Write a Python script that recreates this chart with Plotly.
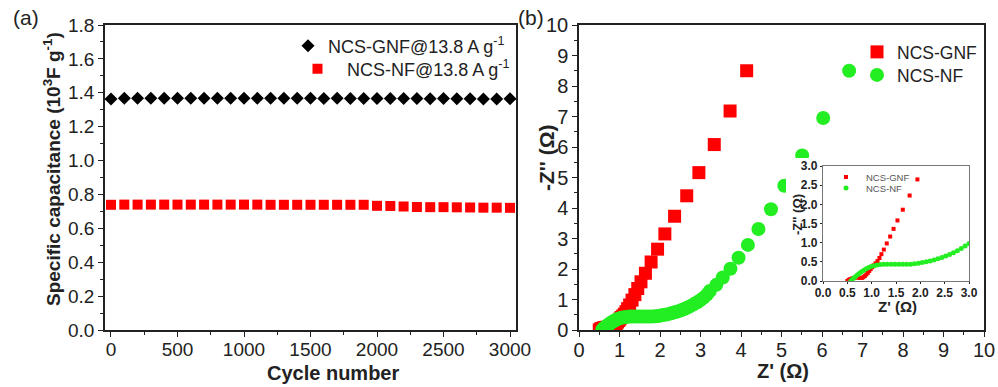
import plotly.graph_objects as go

# ---------------- data ----------------
cycles = list(range(0, 3001, 100))
gnf_cap = [1.363, 1.367, 1.368, 1.368, 1.368, 1.368, 1.367, 1.368, 1.367, 1.368,
           1.368, 1.367, 1.367, 1.367, 1.367, 1.367, 1.366, 1.367, 1.366, 1.366,
           1.366, 1.366, 1.366, 1.366, 1.365, 1.366, 1.365, 1.365, 1.364, 1.364, 1.365]
nf_cap = [0.739, 0.740, 0.740, 0.740, 0.740, 0.740, 0.740, 0.740, 0.740, 0.740,
          0.740, 0.740, 0.739, 0.739, 0.739, 0.739, 0.739, 0.739, 0.739, 0.739,
          0.733, 0.732, 0.729, 0.726, 0.725, 0.725, 0.724, 0.723, 0.722, 0.722, 0.721]

gnf_zr = [0.50, 0.53, 0.56, 0.60, 0.64, 0.68, 0.72, 0.76, 0.80, 0.83, 0.86, 0.89,
          0.92, 0.95, 0.98, 1.01, 1.04, 1.08, 1.12, 1.16, 1.20, 1.25, 1.31, 1.38,
          1.45, 1.53, 1.64, 1.78, 1.94, 2.12, 2.36, 2.66, 2.96, 3.34, 3.73, 4.14]
gnf_zi = [0.00, 0.03, 0.05, 0.07, 0.08, 0.09, 0.09, 0.08, 0.08, 0.10, 0.13, 0.17,
          0.21, 0.26, 0.31, 0.36, 0.41, 0.46, 0.52, 0.60, 0.70, 0.82, 0.98, 1.16,
          1.36, 1.58, 1.86, 2.23, 2.65, 3.15, 3.73, 4.40, 5.16, 6.08, 7.18, 8.50]

nf_zr = [0.57, 0.60, 0.63, 0.67, 0.71, 0.75, 0.79, 0.84, 0.89, 0.94, 0.99, 1.05,
         1.11, 1.18, 1.25, 1.32, 1.40, 1.48, 1.56, 1.64, 1.72, 1.80, 1.88, 1.96,
         2.04, 2.12, 2.20, 2.28, 2.36, 2.44, 2.52, 2.60, 2.68, 2.76, 2.84, 2.92,
         3.00, 3.08, 3.16, 3.23, 3.39, 3.55, 3.74, 3.94, 4.17, 4.43, 4.74, 5.07,
         5.51, 6.03, 6.67]
nf_zi = [0.00, 0.04, 0.08, 0.12, 0.16, 0.20, 0.24, 0.28, 0.32, 0.35, 0.38, 0.40,
         0.42, 0.43, 0.44, 0.44, 0.44, 0.44, 0.44, 0.44, 0.44, 0.44, 0.45, 0.46,
         0.48, 0.50, 0.52, 0.55, 0.58, 0.61, 0.65, 0.69, 0.74, 0.79, 0.85, 0.91,
         0.98, 1.06, 1.16, 1.28, 1.48, 1.72, 2.01, 2.37, 2.79, 3.31, 3.96, 4.73,
         5.72, 6.95, 8.50]

RED = "#ff0000"
GREEN = "#22ee22"
AX = "#222222"
FONT = "Liberation Sans"

fig = go.Figure()

# ---- panel (a)
fig.add_trace(go.Scatter(x=cycles, y=gnf_cap, mode="markers", name="NCS-GNF@13.8 A g<sup>-1</sup>",
                         marker=dict(symbol="diamond", size=10, color="black"),
                         xaxis="x", yaxis="y", legend="legend"))
fig.add_trace(go.Scatter(x=cycles, y=nf_cap, mode="markers", name="NCS-NF@13.8 A g<sup>-1</sup>",
                         marker=dict(symbol="square", size=10, color=RED),
                         xaxis="x", yaxis="y", legend="legend4"))

# ---- panel (b)
fig.add_trace(go.Scatter(x=gnf_zr, y=gnf_zi, mode="markers", name="NCS-GNF",
                         marker=dict(symbol="square", size=13, color=RED),
                         xaxis="x2", yaxis="y2", legend="legend2"))
fig.add_trace(go.Scatter(x=nf_zr, y=nf_zi, mode="markers", name="NCS-NF",
                         marker=dict(symbol="circle", size=14, color=GREEN),
                         xaxis="x2", yaxis="y2", legend="legend5"))

# ---- white cover for inset
fig.add_trace(go.Scatter(x=[], y=[], mode="markers", showlegend=False,
                         xaxis="x3", yaxis="y3"))

# ---- inset
fig.add_trace(go.Scatter(x=gnf_zr, y=gnf_zi, mode="markers", name="NCS-GNF",
                         marker=dict(symbol="square", size=4, color=RED),
                         xaxis="x4", yaxis="y4", legend="legend3", cliponaxis=True))
fig.add_trace(go.Scatter(x=nf_zr, y=nf_zi, mode="markers", name="NCS-NF",
                         marker=dict(symbol="circle", size=5, color=GREEN),
                         xaxis="x4", yaxis="y4", legend="legend6", cliponaxis=True))

W, H = 998, 387
def px(v): return v / W
def py(v): return (H - v) / H

def axis_style(size, bold=False, **kw):
    d = dict(showline=True, linecolor=AX, linewidth=1.5, mirror=True,
             ticks="outside", ticklen=5, tickwidth=1.2, tickcolor=AX,
             showgrid=False, zeroline=False,
             tickfont=dict(family=FONT, size=size, color=AX,
                           weight="bold" if bold else "normal"))
    d.update(kw)
    return d

minor = lambda dt: dict(dtick=dt, ticks="outside", ticklen=3, tickwidth=1.2, tickcolor=AX)

def leg(xc, yc, size, color=AX, iw=30):
    # xc, yc: pixel centre of the legend symbol
    return dict(x=px(xc - 20), y=py(yc), xanchor="left", yanchor="middle",
                bgcolor="rgba(0,0,0,0)", borderwidth=0, itemwidth=iw,
                font=dict(family=FONT, size=size, color=color))

fig.update_layout(
    width=W, height=H, template="none",
    paper_bgcolor="white", plot_bgcolor="white",
    margin=dict(l=0, r=0, t=0, b=0),
    font=dict(family=FONT, color=AX),
    xaxis=axis_style(19, domain=[px(105), px(516)], range=[-45, 3045],
                     tickvals=[0, 500, 1000, 1500, 2000, 2500, 3000], minor=minor(250),
                     ticklabelstandoff=-4, anchor="y"),
    yaxis=axis_style(19, domain=[py(330), py(25)], range=[0, 1.8], dtick=0.2,
                     tickformat=".1f", minor=minor(0.1), anchor="x"),
    xaxis2=axis_style(20, domain=[px(579), px(984)], range=[0, 10], dtick=1,
                      minor=minor(0.5), ticklabelstandoff=-4, anchor="y2"),
    yaxis2=axis_style(20, domain=[py(330), py(25)], range=[0, 10], dtick=1,
                      minor=minor(0.5), anchor="x2"),
    xaxis3=dict(visible=False, domain=[px(786), px(982)], range=[0, 1], anchor="y3"),
    yaxis3=dict(visible=False, domain=[py(318), py(158)], range=[0, 1], anchor="x3"),
    xaxis4=axis_style(12, bold=True, domain=[px(823), px(969)], range=[0, 3], dtick=0.5,
                      tickformat=".1f", ticklen=2, linecolor="#777777", linewidth=1.2,
                      ticklabelstandoff=-2, anchor="y4"),
    yaxis4=axis_style(12, bold=True, domain=[py(281), py(166)], range=[0, 3], dtick=0.5,
                      tickformat=".1f", ticklen=2, linecolor="#777777", linewidth=1.2,
                      anchor="x4"),
    legend=leg(308, 46, 18),
    legend4=leg(308, 69, 18, iw=49),
    legend2=leg(877, 52, 17.5),
    legend5=leg(877, 75, 17.5),
    legend3=leg(846, 177, 9.5, color="#555555"),
    legend6=leg(846, 188, 9.5, color="#555555"),
    showlegend=True,
)

ann = [
    dict(text="(a)", x=px(26), y=py(17), size=21, bold=False),
    dict(text="(b)", x=px(531), y=py(17), size=21, bold=False),
    dict(text="Specific capacitance (10<sup>3</sup>F g<sup>-1</sup>)", x=px(52), y=py(169),
         size=19, bold=True, angle=-90),
    dict(text="Cycle number", x=px(333), y=py(373), size=20, bold=True),
    dict(text="-Z'' (Ω)", x=px(546), y=py(158), size=21, bold=True, angle=-90),
    dict(text="Z' (Ω)", x=px(783), y=py(371), size=20, bold=True),
    dict(text="Z' (Ω)", x=px(897), y=py(306), size=15, bold=True),
    dict(text="-Z'' (Ω)", x=px(797), y=py(215), size=13, bold=True, angle=-90),
]
for a in ann:
    fig.add_annotation(text=a["text"], x=a["x"], y=a["y"], xref="paper", yref="paper",
                       xanchor="center", yanchor="middle", showarrow=False,
                       textangle=a.get("angle", 0),
                       font=dict(family=FONT, size=a["size"], color=AX,
                                 weight="bold" if a["bold"] else "normal"))

fig.write_html("out.html", config={"displayModeBar": False},
               post_script="document.body.style.margin='0';")
